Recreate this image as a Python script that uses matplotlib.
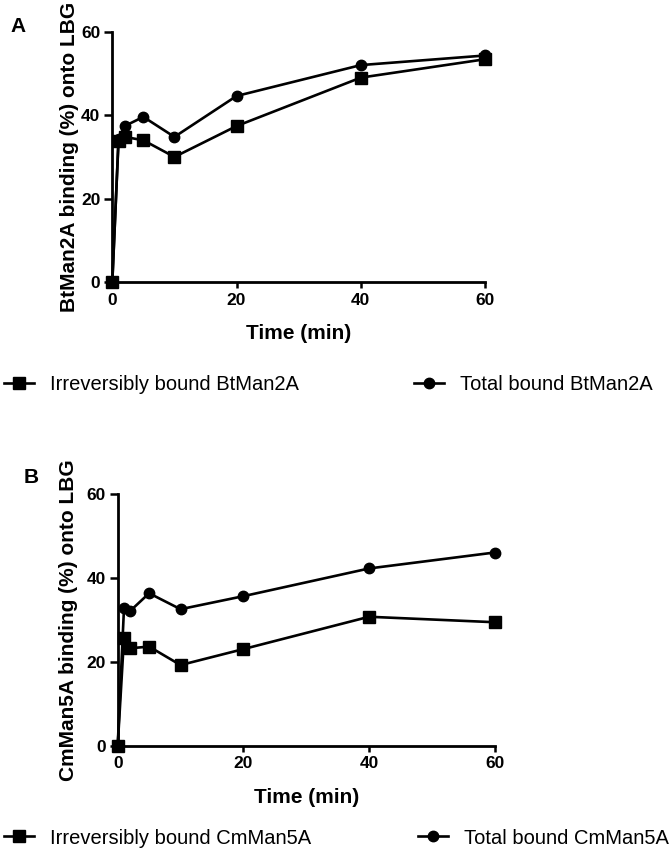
import matplotlib
matplotlib.use("Agg")
import matplotlib.pyplot as plt

plt.rcParams['font.family'] = ['Liberation Sans', 'DejaVu Sans']

time = [0, 1, 2, 5, 10, 20, 40, 60]

# panel A - BtMan2A
bt_irrev = [0, 33.9, 34.8, 34.0, 30.0, 37.4, 49.0, 53.4]
bt_total = [0, 34.2, 37.4, 39.6, 34.8, 44.6, 52.0, 54.3]

# panel B - CmMan5A
cm_irrev = [0, 25.6, 23.2, 23.6, 19.2, 23.0, 30.7, 29.4]
cm_total = [0, 32.7, 32.1, 36.3, 32.5, 35.6, 42.2, 46.0]

ticks = [0, 20, 40, 60]

W, H = 669, 859
fig = plt.figure(figsize=(W / 100, H / 100), dpi=100)


def px_axes(left, top, right, bottom):
    return fig.add_axes([left / W, 1 - bottom / H, (right - left) / W, (bottom - top) / H])


def style(ax, ylabel, ylab_x):
    ax.set_xlim(0, 60)
    ax.set_ylim(0, 60)
    ax.set_xticks(ticks)
    ax.set_yticks(ticks)
    for s in ['top', 'right']:
        ax.spines[s].set_visible(False)
    for s in ['left', 'bottom']:
        ax.spines[s].set_linewidth(2.0)
    ax.tick_params(axis='y', length=6, width=1.8, pad=2.5, labelsize=12.5)
    ax.tick_params(axis='x', length=4.5, width=1.8, pad=3, labelsize=12.5)
    for lab in ax.get_xticklabels() + ax.get_yticklabels():
        lab.set_fontweight('bold')
    ax.set_xlabel('Time (min)', fontsize=15, fontweight='bold', va='center')
    ax.xaxis.set_label_coords(0.5, -0.205)
    ax.set_ylabel(ylabel, fontsize=15, fontweight='bold', va='center')
    ax.yaxis.set_label_coords(ylab_x, 0.5)


def draw(ax, irrev, total):
    l1, = ax.plot(time, irrev, color='black', lw=1.9, marker='s', ms=8, clip_on=False, zorder=3)
    l2, = ax.plot(time, total, color='black', lw=1.9, marker='o', ms=7.5, clip_on=False, zorder=3)
    return l1, l2


def legend_pair(handles, names, y, x1, x2):
    for h, n, x in zip(handles, names, [x1, x2]):
        fig.legend([h], [n], loc='center left', bbox_to_anchor=(x / W, 1 - y / H),
                   frameon=False, fontsize=14.5, handlelength=1.5, handletextpad=0.8,
                   numpoints=1, borderpad=0, borderaxespad=0)


axA = px_axes(112.3, 31.7, 485, 282.2)
a1, a2 = draw(axA, bt_irrev, bt_total)
style(axA, 'BtMan2A binding (%) onto LBG', -0.116)
fig.text(10 / W, 1 - 26 / H, 'A', fontsize=15, fontweight='bold', va='center', ha='left')
legend_pair([a1, a2], ['Irreversibly bound BtMan2A', 'Total bound BtMan2A'], 385, 4, 414)

axB = px_axes(117.7, 493.7, 494.7, 745.7)
b1, b2 = draw(axB, cm_irrev, cm_total)
style(axB, 'CmMan5A binding (%) onto LBG', -0.13)
fig.text(24 / W, 1 - 478 / H, 'B', fontsize=15, fontweight='bold', va='center', ha='left')
legend_pair([b1, b2], ['Irreversibly bound CmMan5A', 'Total bound CmMan5A'], 838, 4, 418)

fig.savefig('out.png', dpi=100)
